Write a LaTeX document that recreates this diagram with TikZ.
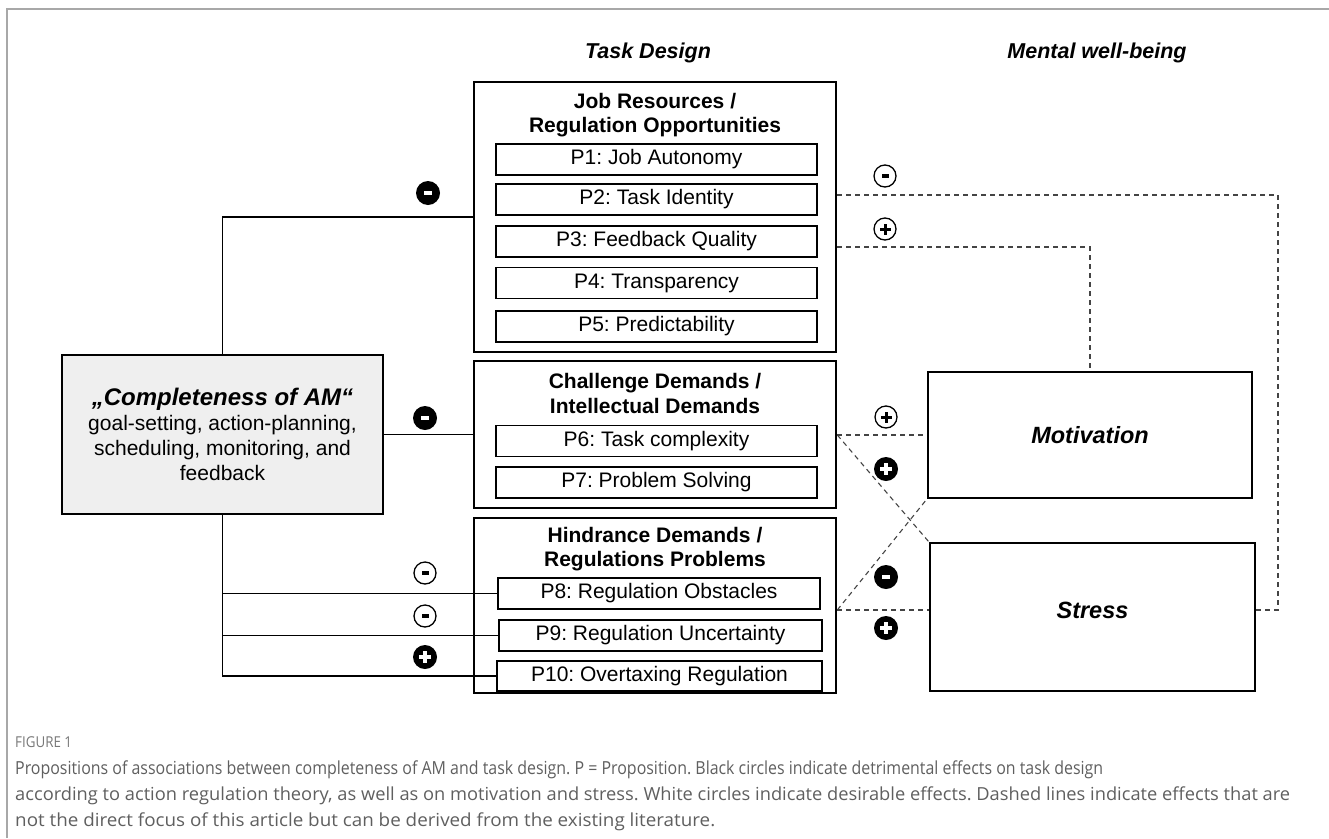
\documentclass[tikz,border=0pt]{standalone}
\usepackage{fontspec}
\usepackage{graphicx}
\setmainfont{Liberation Sans}
\newfontfamily\capfont{Open Sans}
\newfontfamily\figfont[FakeStretch=0.89]{Open Sans}
\usetikzlibrary{calc}
\definecolor{capgray}{HTML}{5F5F5F}
\definecolor{framegray}{HTML}{A8A8A8}
\definecolor{amfill}{HTML}{EFEFEF}
\definecolor{dashgray}{HTML}{444444}
\frenchspacing
\begin{document}
\begin{tikzpicture}[x=1pt,y=-1pt,
  grp/.style={draw, line width=2.6pt, inner sep=0pt, minimum width=362pt},
  pbox/.style={draw, line width=1.1pt, inner sep=0pt, minimum height=31pt, font=\fontsize{21}{25}\selectfont},
  ttl/.style={font=\bfseries\fontsize{21}{24.5}\selectfont, align=center, inner sep=0pt},
  hdr/.style={font=\bfseries\itshape\fontsize{21.5}{25}\selectfont},
  wb/.style={draw, line width=2.6pt, inner sep=0pt, font=\bfseries\itshape\fontsize{23.5}{28}\selectfont},
  conn/.style={line width=1.1pt},
  dsh/.style={line width=1.1pt, dash pattern=on 5pt off 4pt, draw=dashgray},
  capline/.style={anchor=base west, font=\capfont\fontsize{18}{26}\selectfont, text=capgray, inner sep=0pt},
  sgn/.style={circle, inner sep=0pt, minimum size=24pt},
  bminus/.style={sgn, fill=black, path picture={\fill[white] ($(path picture bounding box.center)+(-4,-2)$) rectangle ++(8,4);}},
  bplus/.style={sgn, fill=black, path picture={\fill[white] ($(path picture bounding box.center)+(-6,-2)$) rectangle ++(12,4);
      \fill[white] ($(path picture bounding box.center)+(-2,-6)$) rectangle ++(4,12);}},
  wminus/.style={sgn, minimum size=22pt, draw, line width=1.3pt, fill=white, path picture={\fill[black] ($(path picture bounding box.center)+(-3.5,-1.6)$) rectangle ++(7,3.2);}},
  wplus/.style={sgn, minimum size=22pt, draw, line width=1.3pt, fill=white, path picture={\fill[black] ($(path picture bounding box.center)+(-5.5,-1.5)$) rectangle ++(11,3);
      \fill[black] ($(path picture bounding box.center)+(-1.5,-5.5)$) rectangle ++(3,11);}}
]
\useasboundingbox (0,0) rectangle (1329,838);
% frame
\draw[framegray, line width=2pt] (7,838) -- (7,9) -- (1329,9);

% headers
\node[hdr] (h1) at (648,53) {Task Design};
\node[hdr] (h2) at (1097,53) {Mental well-being};

% group 1
\node[grp, minimum height=270pt] (g1) at (655,217) {};
\node[ttl] (t1) at (655,115) {Job Resources /\\Regulation Opportunities};
\node[pbox, minimum width=321pt] (p1) at (656.5,159.5) {P1: Job Autonomy};
\node[pbox, minimum width=321pt] (p2) at (656.5,199.5) {P2: Task Identity};
\node[pbox, minimum width=321pt] (p3) at (656.5,241.5) {P3: Feedback Quality};
\node[pbox, minimum width=321pt] (p4) at (656.5,283) {P4: Transparency};
\node[pbox, minimum width=321pt] (p5) at (656.5,326.5) {P5: Predictability};

% group 2
\node[grp, minimum height=147pt] (g2) at (655,434.5) {};
\node[ttl] (t2) at (655,393.5) {Challenge Demands /\\Intellectual Demands};
\node[pbox, minimum width=321pt] (p6) at (656.5,441) {P6: Task complexity};
\node[pbox, minimum width=321pt] (p7) at (656.5,482.5) {P7: Problem Solving};

% group 3
\node[grp, minimum height=175pt] (g3) at (655,605.5) {};
\node[ttl] (t3) at (655,549) {Hindrance Demands /\\Regulations Problems};
\node[pbox, minimum width=322pt] (p8) at (659,593.5) {P8: Regulation Obstacles};
\node[pbox, minimum width=323pt] (p9) at (660.5,635.5) {P9: Regulation Uncertainty};
\node[pbox, minimum width=325pt, minimum height=30pt] (p10) at (659.5,676) {P10: Overtaxing Regulation};

% AM box
\node[draw, line width=2.6pt, fill=amfill, minimum width=321pt, minimum height=159pt, inner sep=0pt,
      align=center, font=\fontsize{21}{25}\selectfont] (am) at (222.5,434.5)
  {{\fontsize{24}{30}\selectfont\bfseries\itshape „Completeness of AM“}\\goal-setting, action-planning,\\scheduling, monitoring, and\\feedback};

% well-being boxes
\node[wb, minimum width=324pt, minimum height=126pt] (mot) at (1090,435) {Motivation};
\node[wb, minimum width=325pt, minimum height=148pt, text depth=14pt] (str) at (1092.5,617) {Stress};

% solid connectors
\draw[conn] (am.north) |- (g1.west);
\draw[conn] (am.east) -- (g2.west);
\draw[conn] (am.south) |- (p10.west);
\draw[conn] (am.south |- p8.west) -- (p8.west);
\draw[conn] (am.south |- p9.west) -- (p9.west);

% dashed connectors
\coordinate (d1) at (g1.east |- 0,195);
\coordinate (d1r) at (1278,195);
\coordinate (d1e) at (str.east |- 0,610);
\draw[dsh] (d1) -- (d1r) |- (d1e);
\coordinate (d2) at (g1.east |- 0,247);
\draw[dsh] (d2) -| (mot.north);
\coordinate (d3) at (g2.east |- mot.west);
\draw[dsh] (d3) -- (mot.west);
\draw[dsh] (d3) -- (str.north west);
\coordinate (d4) at (g3.east |- 0,610);
\coordinate (d4e) at (str.west |- 0,610);
\draw[dsh] (d4) -- (d4e);
\draw[dsh] (d4) -- (mot.south west);

% sign circles
\node[bminus] (s1) at (428,193) {};
\node[bminus] (s2) at (425,418) {};
\node[wminus] (s3) at (425,573) {};
\node[wminus] (s4) at (425,616) {};
\node[bplus] (s5) at (425,657) {};
\node[wminus] (s6) at (885,176) {};
\node[wplus] (s7) at (885,229) {};
\node[wplus] (s8) at (886,417) {};
\node[bplus] (s9) at (886,469) {};
\node[bminus] (s10) at (886,577) {};
\node[bplus] (s11) at (886,628) {};

% caption
\node[anchor=west, font=\figfont\fontsize{15}{17}\selectfont, text=capgray!85, inner sep=0pt] (fig) at (15,742) {FIGURE 1};
\node[capline] (cap1) at (15,774) {\resizebox{1088pt}{\height}{Propositions of associations between completeness of AM and task design. P = Proposition. Black circles indicate detrimental effects on task design}};
\node[capline] (cap2) at (15,800) {\resizebox{1275pt}{\height}{according to action regulation theory, as well as on motivation and stress. White circles indicate desirable effects. Dashed lines indicate effects that are}};
\node[capline] (cap3) at (15,826) {\resizebox{700pt}{\height}{not the direct focus of this article but can be derived from the existing literature.}};
\end{tikzpicture}
\end{document}
